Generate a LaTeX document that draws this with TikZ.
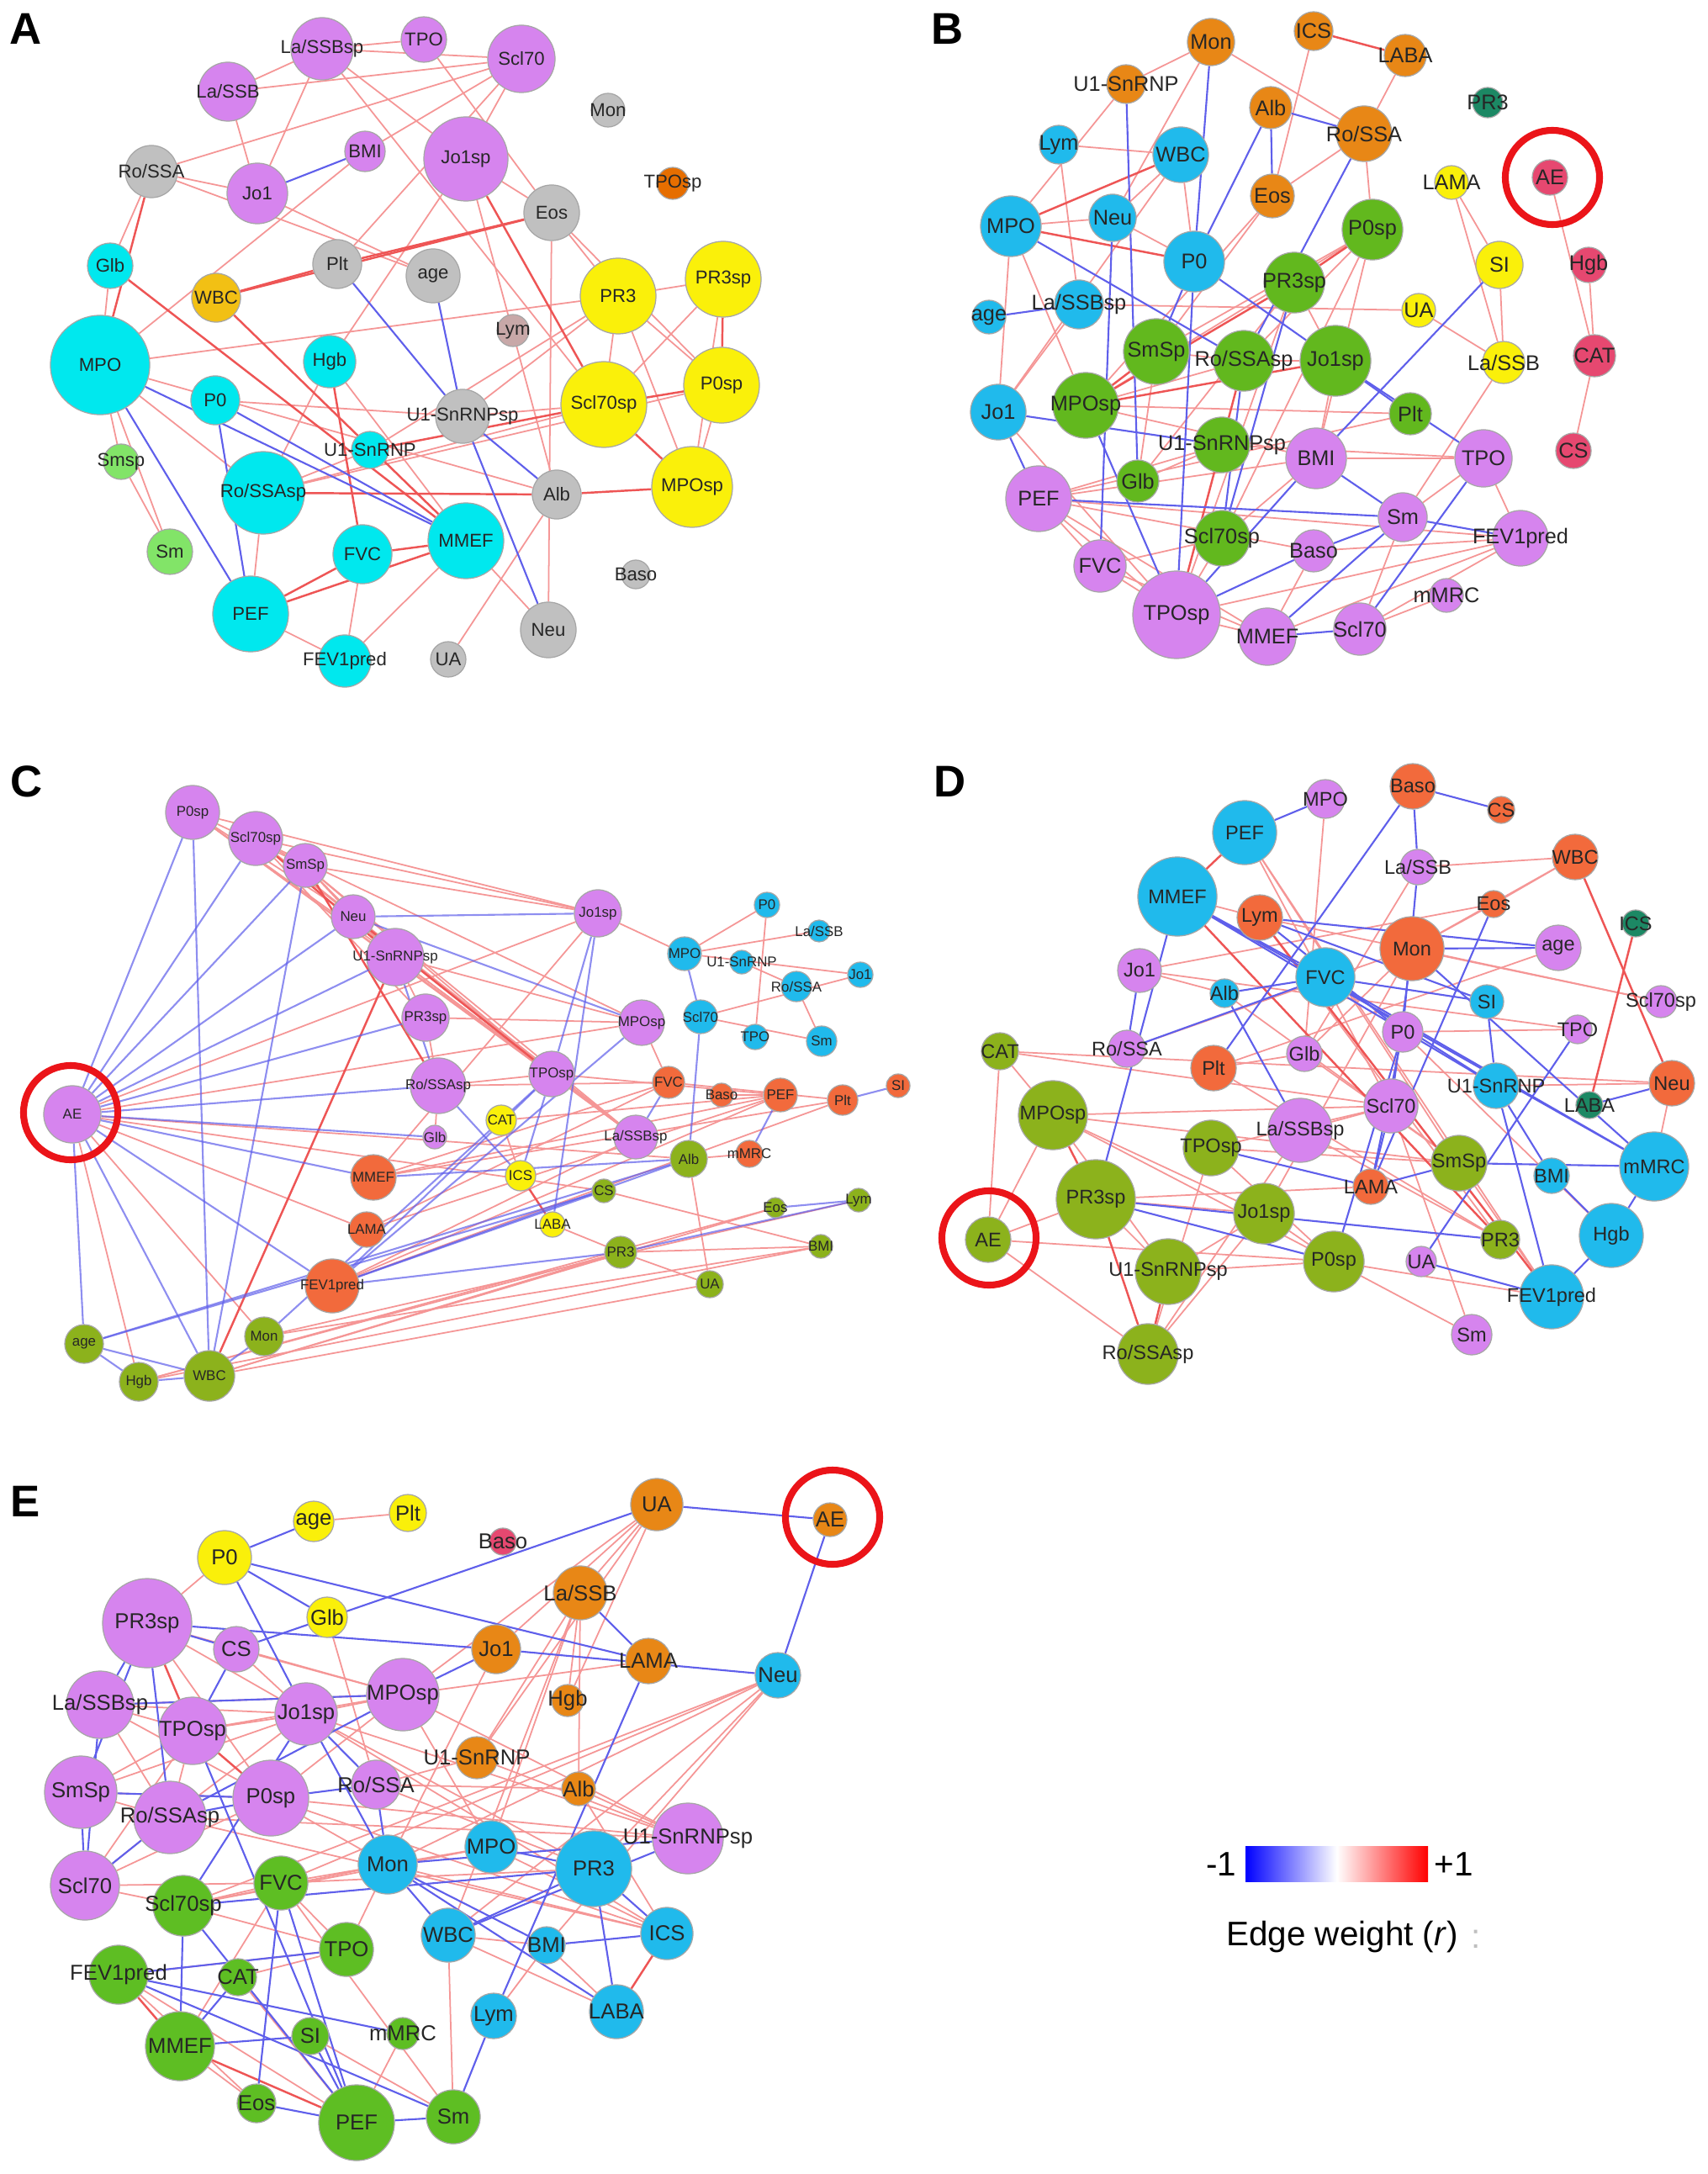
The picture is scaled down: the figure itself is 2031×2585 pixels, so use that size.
\documentclass[tikz,border=0pt]{standalone}
\usepackage{fontspec}
\setmainfont{Liberation Sans}
\usetikzlibrary{backgrounds}

\definecolor{cVio}{RGB}{214,132,238}
\definecolor{cAqua}{RGB}{0,232,238}
\definecolor{cSky}{RGB}{32,186,236}
\definecolor{cGray}{RGB}{192,192,192}
\definecolor{cYel}{RGB}{250,240,10}
\definecolor{cLgreen}{RGB}{130,228,104}
\definecolor{cLeaf}{RGB}{98,184,30}
\definecolor{cOlive}{RGB}{140,178,28}
\definecolor{cGrass}{RGB}{94,190,35}
\definecolor{cOrng}{RGB}{232,135,22}
\definecolor{cCoral}{RGB}{242,106,60}
\definecolor{cRose}{RGB}{230,72,112}
\definecolor{cTeal}{RGB}{28,136,100}
\definecolor{cGold}{RGB}{242,192,20}
\definecolor{cTang}{RGB}{230,110,0}
\definecolor{cMauve}{RGB}{200,168,168}
\definecolor{cRing}{RGB}{235,20,25}
\definecolor{cPos}{RGB}{245,150,150}
\definecolor{cPosS}{RGB}{238,85,85}
\definecolor{cNeg}{RGB}{95,95,235}

\tikzset{
  vtx/.style={circle, draw=black!35, line width=0.35pt, inner sep=0pt, minimum size=#1},
  lblA/.style={font=\fontsize{6.3}{7}\selectfont, text=black!85, inner sep=0pt},
  lblB/.style={font=\fontsize{7.2}{8}\selectfont, text=black!85, inner sep=0pt},
  lblC/.style={font=\fontsize{4.8}{5}\selectfont, text=black!85, inner sep=0pt},
  lblD/.style={font=\fontsize{6.7}{7}\selectfont, text=black!85, inner sep=0pt},
  lblE/.style={font=\fontsize{7.3}{8}\selectfont, text=black!85, inner sep=0pt},
  redge/.style={draw=cPos, line width=0.5pt},
  redgeS/.style={draw=cPosS, line width=0.7pt},
  bedge/.style={draw=cNeg, line width=0.6pt},
  ring/.style={circle, draw=cRing, line width=2.3pt, inner sep=0pt, minimum size=1.12cm},
  panel/.style={font=\fontsize{15}{18}\selectfont\bfseries, inner sep=0pt},
  legtxt/.style={font=\fontsize{11.5}{13}\selectfont, inner sep=0pt}
}

\begin{document}
\begin{tikzpicture}[x=0.01cm, y=-0.01cm]
% page
\useasboundingbox (0,0) rectangle (2031,2585);
\begin{pgfonlayer}{background}
\fill[white] (0,0) rectangle (2031,2585);
\end{pgfonlayer}

% ---------------- Panel A ----------------
\node[panel] (labA) at (31,34) {A};
\foreach \id/\x/\y/\r/\c/\t in {
  LaSSBsp/383/58/37/cVio/{La/SSBsp}, TPO/504/47/27/cVio/TPO, Scl70/620/70/40/cVio/Scl70,
  LaSSB/271/109/35/cVio/{La/SSB}, Mon/723/131/20/cGray/Mon, BMI/434/180/24/cVio/BMI,
  Jo1sp/554/189/50/cVio/Jo1sp, RoSSA/180/204/31/cGray/{Ro/SSA}, Jo1/306/230/36/cVio/Jo1,
  TPOsp/800/218/19/cTang/TPOsp, Eos/656/253/33/cGray/Eos, Glb/131/316/27/cAqua/Glb,
  WBC/257/354/29/cGold/WBC, Plt/401/314/29/cGray/Plt, age/515/328/32/cGray/age,
  PR3/735/352/45/cYel/PR3, PR3sp/860/332/45/cYel/PR3sp, Lym/610/393/19/cMauve/Lym,
  MPO/119/434/59/cAqua/MPO, Hgb/392/430/31/cAqua/Hgb, P0/256/476/29/cAqua/P0,
  Scl70sp/718/481/51/cYel/Scl70sp, U1sp/550/495/32/cGray/U1-SnRNPsp, P0sp/858/458/45/cYel/P0sp,
  U1/440/535/22/cAqua/U1-SnRNP, Smsp/144/549/21/cLgreen/Smsp, RoSSAsp/313/586/49/cAqua/{Ro/SSAsp},
  Alb/662/588/29/cGray/Alb, MPOsp/823/579/48/cYel/MPOsp, Sm/202/656/27/cLgreen/Sm,
  FVC/431/659/35/cAqua/FVC, MMEF/554/643/45/cAqua/MMEF, Baso/756/683/17/cGray/Baso,
  PEF/298/730/45/cAqua/PEF, Neu/652/749/33/cGray/Neu, UA/533/784/21/cGray/UA,
  FEV1/410/786/31/cAqua/FEV1pred}
  \node[vtx=\r*0.02cm, fill=\c, label={[lblA]center:\t}] (a\id) at (\x,\y) {};
\begin{pgfonlayer}{background}
\foreach \u/\v in {LaSSBsp/LaSSB, LaSSBsp/TPO, LaSSBsp/Jo1, LaSSBsp/Jo1sp, LaSSBsp/Scl70sp,
  Scl70/LaSSB, Scl70/LaSSBsp, Scl70/RoSSA, Scl70/Jo1sp, Scl70/BMI, Scl70/Plt, TPO/Eos,
  LaSSB/Jo1, RoSSA/Glb, RoSSA/age, Jo1sp/Eos, Jo1sp/Hgb, Jo1sp/Alb, BMI/MPO, Eos/PR3,
  Eos/P0sp, Eos/Neu, Glb/MPO, MPO/PR3, MPO/Smsp, MPO/Sm, MPO/RoSSAsp, MPO/Alb,
  Hgb/RoSSAsp, Hgb/MMEF, P0/U1sp, U1/PR3, U1/RoSSAsp, RoSSAsp/Scl70sp, RoSSAsp/P0sp,
  RoSSAsp/PEF, Scl70sp/U1sp, PR3/PR3sp, PR3/P0sp, PR3/MPOsp, PR3/Scl70sp, PR3sp/Scl70sp,
  PR3sp/MPOsp, P0sp/MPOsp, Alb/UA, FVC/FEV1, MMEF/FEV1, MMEF/Neu, PEF/FEV1, Smsp/Sm,
  RoSSA/Jo1, Jo1/age, U1sp/PR3}
  \draw[redge] (a\u) -- (a\v);
\foreach \u/\v in {Eos/Plt, Eos/WBC, WBC/Plt, Glb/MMEF, WBC/MMEF, Jo1sp/Scl70sp,
  Scl70sp/P0sp, PR3sp/P0sp, RoSSAsp/Alb, Alb/MPOsp, FVC/MMEF, FVC/PEF, MMEF/PEF,
  U1/Scl70sp, Hgb/FVC, Scl70sp/MPOsp, RoSSA/MPO}
  \draw[redgeS] (a\u) -- (a\v);
\foreach \u/\v in {Jo1/BMI, MPO/MMEF, P0/MMEF, MPO/PEF, P0/PEF, Plt/U1sp, age/U1sp,
  U1sp/Alb, U1sp/Neu}
  \draw[bedge] (a\u) -- (a\v);
\end{pgfonlayer}

% ---------------- Panel B ----------------
\node[panel] (labB) at (1127,34) {B};
\foreach \id/\x/\y/\r/\c/\t in {
  Mon/1440/50/28/cOrng/Mon, ICS/1562/37/23/cOrng/ICS, LABA/1671/66/25/cOrng/LABA,
  U1/1339/100/23/cOrng/U1-SnRNP, PR3/1769/122/18/cTeal/PR3, Alb/1511/128/25/cOrng/Alb,
  RoSSA/1622/159/33/cOrng/{Ro/SSA}, Lym/1259/172/23/cSky/Lym, WBC/1404/184/33/cSky/WBC,
  AE/1843/211/21/cRose/AE, LAMA/1726/217/20/cYel/LAMA, Eos/1513/233/26/cOrng/Eos,
  MPO/1202/269/36/cSky/MPO, Neu/1323/259/28/cSky/Neu, P0sp/1632/273/36/cLeaf/P0sp,
  P0/1420/311/36/cSky/P0, SI/1783/315/28/cYel/SI, Hgb/1889/315/21/cRose/Hgb,
  PR3sp/1539/336/36/cLeaf/PR3sp, LaSSBsp/1283/362/29/cSky/{La/SSBsp}, age/1176/377/20/cSky/age,
  UA/1687/369/20/cYel/UA, SmSp/1375/418/39/cLeaf/SmSp, RoSSAsp/1479/429/36/cLeaf/{Ro/SSAsp},
  Jo1sp/1588/429/42/cLeaf/Jo1sp, LaSSB/1788/431/25/cYel/{La/SSB}, CAT/1896/423/25/cRose/CAT,
  Jo1/1187/490/33/cSky/Jo1, MPOsp/1291/482/39/cLeaf/MPOsp, Plt/1677/492/25/cLeaf/Plt,
  U1sp/1453/529/33/cLeaf/U1-SnRNPsp, BMI/1565/545/36/cVio/BMI, TPO/1764/545/34/cVio/TPO,
  CS/1871/536/21/cRose/CS, Glb/1353/572/25/cLeaf/Glb, PEF/1235/593/39/cVio/PEF,
  Sm/1668/615/29/cVio/Sm, Scl70sp/1453/640/33/cLeaf/Scl70sp, Baso/1562/655/25/cVio/Baso,
  FEV1/1808/640/33/cVio/FEV1pred, FVC/1308/673/31/cVio/FVC, mMRC/1720/708/20/cVio/mMRC,
  TPOsp/1399/731/52/cVio/TPOsp, MMEF/1507/757/34/cVio/MMEF, Scl70/1617/748/31/cVio/Scl70}
  \node[vtx=\r*0.02cm, fill=\c, label={[lblB]center:\t}] (b\id) at (\x,\y) {};
\node[ring] (bRing) at (1846,211) {};
\begin{pgfonlayer}{background}
\foreach \u/\v in {Mon/U1, Mon/RoSSA, Mon/Neu, ICS/Eos, LABA/RoSSA, U1/MPO, Lym/WBC,
  Lym/LaSSBsp, WBC/Neu, WBC/P0, WBC/Jo1, MPO/Neu, MPO/MPOsp, Neu/P0, Eos/MPOsp, Eos/SmSp,
  RoSSA/P0sp, RoSSA/Eos, P0sp/MPOsp, P0sp/SmSp, P0sp/RoSSAsp, P0sp/Scl70sp, P0sp/BMI,
  PR3sp/Jo1sp, PR3sp/Glb, PR3sp/TPOsp, LAMA/SI, LAMA/LaSSB, SI/LaSSB, UA/LaSSB, LaSSBsp/UA,
  AE/CAT, Hgb/CAT, CAT/CS, SmSp/RoSSAsp, SmSp/Glb, RoSSAsp/Jo1sp, RoSSAsp/MPOsp, BMI/TPO,
  BMI/PEF, BMI/Scl70sp, TPO/Sm, TPO/FEV1, PEF/FVC, PEF/TPOsp, PEF/Baso, PEF/MMEF, FVC/TPOsp,
  TPOsp/MMEF, TPOsp/Scl70sp, TPOsp/FEV1, Baso/FEV1, Baso/MMEF, Scl70/mMRC, Scl70/FEV1,
  Sm/Scl70, MMEF/FEV1, LaSSB/Sm, U1sp/TPO, Jo1/TPOsp, PEF/U1sp, FVC/Scl70sp, MPOsp/Plt,
  Jo1/LaSSBsp, MPO/Jo1, U1sp/Glb, PEF/Plt, Jo1sp/BMI, MPOsp/BMI, PEF/FEV1, FVC/MMEF}
  \draw[redge] (b\u) -- (b\v);
\foreach \u/\v in {ICS/LABA, P0sp/PR3sp, PR3sp/MPOsp, SmSp/MPOsp, MPOsp/Jo1sp, WBC/MPO,
  MPO/P0, RoSSAsp/TPOsp}
  \draw[redgeS] (b\u) -- (b\v);
\foreach \u/\v in {Mon/P0, U1/Glb, Alb/Eos, Alb/RoSSA, Alb/P0, RoSSA/RoSSAsp, MPO/RoSSAsp,
  P0/TPOsp, P0/Jo1sp, P0/SmSp, age/LaSSBsp, Jo1/U1sp, Jo1/PEF, MPOsp/TPOsp, Jo1sp/TPO,
  SI/BMI, BMI/Sm, BMI/TPOsp, PEF/Sm, Sm/Baso, Sm/MMEF, Sm/FEV1, TPO/Scl70, MMEF/Scl70,
  PR3sp/Scl70sp, Baso/TPOsp, Jo1sp/Plt, Neu/FVC, RoSSAsp/Scl70sp}
  \draw[bedge] (b\u) -- (b\v);
\end{pgfonlayer}

% ---------------- Panel C ----------------
\node[panel] (labC) at (32,929) {C};
\foreach \id/\x/\y/\r/\c/\t in {
  P0sp/229/966/32/cVio/P0sp, Scl70sp/304/997/32/cVio/Scl70sp, SmSp/363/1029/26/cVio/SmSp,
  Neu/420/1090/26/cVio/Neu, Jo1sp/711/1086/28/cVio/Jo1sp, P0/912/1076/15/cSky/P0,
  LaSSB/974/1107/13/cSky/{La/SSB}, U1sp/470/1138/34/cVio/U1-SnRNPsp, MPO/814/1134/20/cSky/MPO,
  U1/882/1144/14/cSky/U1-SnRNP, Jo1/1023/1159/15/cSky/Jo1, RoSSA/947/1173/18/cSky/{Ro/SSA},
  PR3sp/506/1210/28/cVio/PR3sp, MPOsp/763/1216/27/cVio/MPOsp, Scl70/833/1209/20/cSky/Scl70,
  TPO/898/1233/15/cSky/TPO, Sm/977/1238/18/cSky/Sm, AE/86/1325/34/cVio/AE,
  RoSSAsp/521/1291/33/cVio/{Ro/SSAsp}, TPOsp/656/1277/27/cVio/TPOsp, FVC/795/1287/19/cCoral/FVC,
  Baso/858/1302/14/cCoral/Baso, PEF/928/1302/20/cCoral/PEF, Plt/1002/1308/18/cCoral/Plt,
  SI/1068/1291/14/cCoral/SI, CAT/596/1332/18/cYel/CAT, Glb/517/1352/14/cVio/Glb,
  LaSSBsp/756/1352/26/cVio/{La/SSBsp}, Alb/819/1378/22/cOlive/Alb, mMRC/891/1372/16/cCoral/mMRC,
  MMEF/444/1400/27/cCoral/MMEF, ICS/619/1398/18/cYel/ICS, CS/718/1416/14/cOlive/CS,
  Eos/922/1436/12/cOlive/Eos, Lym/1021/1427/14/cOlive/Lym, LAMA/436/1462/21/cCoral/LAMA,
  LABA/657/1456/15/cYel/LABA, PR3/738/1489/19/cOlive/PR3, BMI/976/1482/14/cOlive/BMI,
  FEV1/395/1529/32/cCoral/FEV1pred, UA/844/1527/16/cOlive/UA, Mon/314/1589/23/cOlive/Mon,
  age/100/1598/23/cOlive/age, WBC/249/1636/30/cOlive/WBC, Hgb/165/1643/23/cOlive/Hgb}
  \node[vtx=\r*0.02cm, fill=\c, label={[lblC]center:\t}] (c\id) at (\x,\y) {};
\node[ring] (cRing) at (84,1323) {};
\begin{pgfonlayer}{background}
\foreach \u/\v in {AE/Hgb, AE/Mon, AE/LAMA, AE/MPOsp, AE/CS, AE/Alb, AE/Jo1sp,
  P0sp/Jo1sp, P0sp/TPOsp, P0sp/LaSSBsp, P0sp/U1sp, Scl70sp/SmSp, Scl70sp/Jo1sp,
  Scl70sp/MPOsp, Scl70sp/TPOsp, Scl70sp/LaSSBsp, Scl70sp/PR3sp, SmSp/TPOsp, SmSp/LaSSBsp,
  SmSp/Jo1sp, SmSp/Neu, Neu/U1sp, Neu/LaSSBsp, U1sp/PR3sp, U1sp/TPOsp, U1sp/LaSSBsp,
  U1sp/MPOsp, PR3sp/RoSSAsp, PR3sp/MPOsp, RoSSAsp/TPOsp, RoSSAsp/FVC, Jo1sp/MMEF, Jo1sp/MPO,
  TPOsp/LaSSBsp, MPOsp/FVC, WBC/PR3, WBC/UA, Hgb/BMI, Mon/BMI, FEV1/LaSSBsp, MMEF/PEF,
  MMEF/Plt, FEV1/PEF, LAMA/FVC, CAT/ICS, Alb/UA, Alb/mMRC, Baso/PEF, FVC/Plt, MPO/Jo1,
  LaSSB/MPO, P0/TPO, Scl70/Sm, U1/RoSSA, RoSSA/Sm, MPO/P0, Scl70/Jo1, Hgb/Eos, PR3/UA,
  PR3/BMI, CS/BMI, LABA/PR3, Hgb/PR3, Mon/Lym, WBC/Eos, P0sp/Neu, P0sp/SmSp, Scl70sp/Neu,
  SmSp/U1sp, FEV1/Plt, LAMA/PEF, MMEF/FVC, Glb/RoSSAsp, CAT/PEF, TPOsp/PEF}
  \draw[redge] (c\u) -- (c\v);
\foreach \u/\v in {WBC/U1sp, Scl70sp/U1sp, SmSp/RoSSAsp, ICS/LABA, Neu/TPOsp}
  \draw[redgeS] (c\u) -- (c\v);
\foreach \u/\v in {AE/P0sp, AE/Scl70sp, AE/SmSp, AE/U1sp, AE/PR3sp, AE/RoSSAsp, AE/Glb,
  AE/MMEF, AE/FEV1, AE/age, AE/WBC, AE/Neu, P0sp/WBC, Neu/Jo1sp, Neu/MPOsp, SmSp/WBC,
  Jo1sp/TPOsp, Jo1sp/LABA, TPOsp/ICS, TPOsp/FEV1, MPOsp/FEV1, Alb/FEV1, Alb/age, Alb/MMEF,
  CS/age, CS/FEV1, PR3/Lym, PR3/FEV1, age/Hgb, age/WBC, WBC/Mon, U1sp/RoSSAsp, RoSSAsp/ICS,
  MPO/Scl70, Scl70/Alb, Plt/SI, PEF/mMRC, FVC/LaSSBsp, Eos/Lym, Mon/TPOsp, Hgb/WBC}
  \draw[bedge, draw opacity=0.7] (c\u) -- (c\v);
\end{pgfonlayer}

% ---------------- Panel D ----------------
\node[panel] (labD) at (1130,929) {D};
\foreach \id/\x/\y/\r/\c/\t in {
  Baso/1680/935/27/cCoral/Baso, MPO/1576/950/23/cVio/MPO, CS/1785/963/16/cCoral/CS,
  PEF/1480/990/38/cSky/PEF, WBC/1873/1019/27/cCoral/WBC, LaSSB/1686/1031/21/cVio/{La/SSB},
  MMEF/1400/1066/47/cSky/MMEF, Lym/1498/1091/27/cCoral/Lym, Eos/1776/1075/16/cCoral/Eos,
  ICS/1945/1098/16/cTeal/ICS, Mon/1679/1128/38/cCoral/Mon, age/1853/1127/27/cVio/age,
  Jo1/1355/1154/26/cVio/Jo1, FVC/1576/1162/35/cSky/FVC, Alb/1456/1181/17/cSky/Alb,
  SI/1768/1191/20/cSky/SI, Scl70sp/1975/1191/19/cVio/Scl70sp, CAT/1189/1250/22/cOlive/CAT,
  RoSSA/1340/1247/22/cVio/{Ro/SSA}, P0/1668/1227/24/cVio/P0, TPO/1876/1224/17/cVio/TPO,
  Glb/1551/1253/21/cVio/Glb, Plt/1443/1270/27/cCoral/Plt, U1/1779/1291/27/cSky/U1-SnRNP,
  Neu/1988/1288/27/cCoral/Neu, LABA/1890/1314/16/cTeal/LABA, MPOsp/1252/1326/41/cOlive/MPOsp,
  Scl70/1654/1315/32/cVio/Scl70, LaSSBsp/1546/1344/38/cVio/{La/SSBsp}, TPOsp/1440/1365/33/cOlive/TPOsp,
  SmSp/1735/1383/33/cOlive/SmSp, mMRC/1967/1387/41/cSky/mMRC, BMI/1845/1398/21/cSky/BMI,
  LAMA/1630/1411/21/cCoral/LAMA, PR3sp/1303/1426/47/cOlive/PR3sp, Jo1sp/1503/1443/36/cOlive/Jo1sp,
  Hgb/1916/1469/38/cSky/Hgb, AE/1175/1474/27/cOlive/AE, PR3/1784/1474/23/cOlive/PR3,
  P0sp/1586/1500/36/cOlive/P0sp, UA/1690/1500/18/cVio/UA, U1sp/1389/1512/39/cOlive/U1-SnRNPsp,
  FEV1/1845/1542/38/cSky/FEV1pred, Sm/1750/1587/24/cVio/Sm, RoSSAsp/1365/1610/36/cOlive/{Ro/SSAsp}}
  \node[vtx=\r*0.02cm, fill=\c, label={[lblD]center:\t}] (d\id) at (\x,\y) {};
\node[ring] (dRing) at (1176,1472) {};
\begin{pgfonlayer}{background}
\foreach \u/\v in {WBC/Eos, WBC/LaSSB, Eos/Mon, MPO/Glb, PEF/Scl70, PEF/SmSp, MMEF/Lym,
  CAT/MPOsp, CAT/AE, CAT/Neu, MPOsp/AE, MPOsp/U1sp, MPOsp/Jo1sp, MPOsp/P0sp, PR3sp/U1sp,
  PR3sp/Jo1sp, PR3sp/AE, AE/RoSSAsp, AE/P0sp, U1sp/Jo1sp, Jo1sp/P0sp, TPOsp/RoSSAsp,
  Jo1sp/RoSSAsp, SmSp/FEV1, Scl70/Sm, P0sp/Sm, Jo1/TPO, LaSSBsp/Scl70, Jo1/Alb, Lym/Scl70sp,
  Mon/Glb, LaSSB/Glb, P0/TPO, Glb/SmSp, Plt/PR3, Neu/mMRC, age/Plt, RoSSA/Mon, Alb/SmSp,
  LaSSBsp/PR3, TPOsp/SmSp, P0sp/FEV1, MPOsp/Scl70, MPOsp/SmSp, CAT/Scl70, PR3sp/LAMA,
  TPOsp/Scl70, Jo1sp/Mon, Lym/PR3, PEF/FEV1, Eos/Jo1, WBC/Mon, Scl70sp/Mon, P0/Hgb, U1/Neu,
  Plt/Glb, RoSSAsp/LaSSBsp, U1sp/P0sp, TPOsp/P0sp}
  \draw[redge] (d\u) -- (d\v);
\foreach \u/\v in {MPOsp/PR3sp, PR3sp/RoSSAsp, U1sp/RoSSAsp, WBC/Neu, Lym/FEV1, MMEF/PR3,
  ICS/LABA, MMEF/PEF}
  \draw[redgeS] (d\u) -- (d\v);
\foreach \u/\v in {Baso/CS, Baso/LaSSB, Baso/Plt, PEF/MPO, MMEF/PR3sp, MMEF/FVC, MMEF/U1,
  MMEF/mMRC, Lym/age, Lym/SI, Mon/age, Mon/Scl70, Mon/mMRC, FVC/SI, FVC/Alb, FVC/RoSSA,
  FVC/mMRC, FVC/U1, Alb/LaSSBsp, P0/LAMA, SI/U1, Scl70/LAMA, LaSSB/P0, U1/FEV1, U1/BMI,
  TPO/UA, LABA/Neu, BMI/Hgb, mMRC/Hgb, Hgb/FEV1, PR3sp/P0sp, PR3sp/PR3, TPOsp/LAMA, UA/FEV1,
  Jo1/RoSSA, P0/P0sp, SmSp/LAMA, SmSp/mMRC, Eos/LAMA, Lym/P0}
  \draw[bedge] (d\u) -- (d\v);
\end{pgfonlayer}

% ---------------- Panel E ----------------
\node[panel] (labE) at (30,1785) {E};
\foreach \id/\x/\y/\r/\c/\t in {
  UA/781/1789/31/cOrng/UA, AE/987/1807/20/cOrng/AE, Plt/485/1799/22/cYel/Plt,
  age/373/1809/24/cYel/age, Baso/598/1833/16/cRose/Baso, P0/267/1852/32/cYel/P0,
  LaSSB/690/1894/32/cOrng/{La/SSB}, Glb/389/1923/24/cYel/Glb, PR3sp/175/1930/53/cVio/PR3sp,
  CS/281/1961/27/cVio/CS, Jo1/590/1961/29/cOrng/Jo1, LAMA/771/1975/27/cOrng/LAMA,
  Neu/925/1992/27/cSky/Neu, MPOsp/479/2015/43/cVio/MPOsp, Hgb/675/2022/19/cOrng/Hgb,
  LaSSBsp/119/2027/40/cVio/{La/SSBsp}, Jo1sp/364/2038/37/cVio/Jo1sp, TPOsp/229/2058/40/cVio/TPOsp,
  U1/567/2090/25/cOrng/U1-SnRNP, SmSp/96/2131/43/cVio/SmSp, RoSSA/447/2122/29/cVio/{Ro/SSA},
  Alb/688/2127/20/cOrng/Alb, P0sp/322/2138/45/cVio/P0sp, RoSSAsp/202/2161/43/cVio/{Ro/SSAsp},
  U1sp/818/2186/42/cVio/U1-SnRNPsp, MPO/584/2196/31/cSky/MPO, Mon/461/2217/35/cSky/Mon,
  PR3/706/2222/45/cSky/PR3, Scl70/101/2242/41/cVio/Scl70, FVC/334/2239/32/cGrass/FVC,
  Scl70sp/218/2266/36/cGrass/Scl70sp, WBC/533/2301/32/cSky/WBC, ICS/793/2299/31/cSky/ICS,
  TPO/412/2318/32/cGrass/TPO, BMI/650/2313/22/cSky/BMI, FEV1/141/2348/35/cGrass/FEV1pred,
  CAT/283/2351/22/cGrass/CAT, LABA/733/2392/32/cSky/LABA, Lym/587/2397/27/cSky/Lym,
  SI/369/2421/22/cGrass/SI, mMRC/479/2418/19/cGrass/mMRC, MMEF/214/2433/41/cGrass/MMEF,
  Eos/305/2501/23/cGrass/Eos, PEF/424/2524/45/cGrass/PEF, Sm/539/2517/32/cGrass/Sm}
  \node[vtx=\r*0.02cm, fill=\c, label={[lblE]center:\t}] (e\id) at (\x,\y) {};
\node[ring] (eRing) at (990,1804) {};
\begin{pgfonlayer}{background}
\foreach \u/\v in {UA/LaSSB, UA/Jo1, UA/U1, UA/Hgb, UA/MPOsp, age/Plt, P0/PR3sp, LaSSB/Hgb,
  LaSSB/Alb, LaSSB/WBC, LaSSB/MPO, LaSSB/U1, LAMA/MPOsp, Neu/Mon, Neu/WBC, Neu/Scl70sp,
  Neu/PR3, Neu/BMI, Alb/U1sp, Alb/ICS, Alb/RoSSA, U1/U1sp, U1/RoSSA, MPOsp/U1sp, Jo1sp/U1sp,
  P0sp/U1sp, RoSSAsp/U1sp, PR3sp/Jo1sp, PR3sp/P0sp, PR3sp/MPOsp, LaSSBsp/TPOsp,
  LaSSBsp/Jo1sp, LaSSBsp/MPOsp, LaSSBsp/RoSSAsp, LaSSBsp/P0sp, TPOsp/Jo1sp, TPOsp/MPOsp,
  TPOsp/SmSp, TPOsp/RoSSAsp, TPOsp/Scl70, Jo1sp/MPOsp, Jo1sp/SmSp, Jo1sp/RoSSAsp,
  MPOsp/P0sp, CS/MPOsp, CS/Jo1sp, SmSp/RoSSAsp, SmSp/P0sp, RoSSAsp/Scl70, Scl70/P0sp,
  Scl70/Scl70sp, Scl70/FVC, Scl70sp/FVC, Scl70sp/TPO, FVC/TPO, FVC/Sm, FVC/MMEF, TPO/FEV1,
  FEV1/PEF, CAT/TPO, MMEF/Eos, SI/Sm, mMRC/PEF, MPO/ICS, MPO/Scl70sp, Mon/ICS, WBC/LABA,
  WBC/BMI, BMI/Lym, BMI/LABA, PR3/FVC, MPO/FVC, Mon/TPO, P0sp/Mon, RoSSAsp/ICS, Jo1sp/ICS,
  Scl70sp/Mon, Glb/RoSSA, Jo1/Mon, Neu/FVC, RoSSA/PR3, Jo1sp/PR3, MPOsp/MPO, P0sp/ICS,
  Eos/FEV1, Sm/WBC, CAT/PEF}
  \draw[redge] (e\u) -- (e\v);
\foreach \u/\v in {ICS/LABA, PR3sp/TPOsp, TPOsp/P0sp, MMEF/PEF, FEV1/MMEF}
  \draw[redgeS] (e\u) -- (e\v);
\foreach \u/\v in {P0/age, P0/Glb, P0/Jo1sp, P0/LAMA, Jo1/Neu, UA/CS, UA/AE, AE/Neu,
  LaSSB/LAMA, PR3sp/CS, PR3sp/Jo1, MPOsp/Jo1, MPOsp/RoSSAsp, PR3sp/LaSSBsp, PR3sp/SmSp,
  PR3sp/RoSSAsp, LaSSBsp/Scl70, SmSp/Scl70, Scl70/RoSSAsp, RoSSAsp/P0sp, P0sp/SmSp,
  P0sp/RoSSA, Jo1sp/Mon, CS/TPOsp, TPOsp/PEF, Scl70sp/MMEF, Scl70sp/PEF, FVC/PEF, FVC/Eos,
  FEV1/Sm, FEV1/mMRC, FEV1/TPO, MMEF/SI, SI/PEF, Eos/PEF, PEF/Sm, Mon/WBC, Mon/BMI,
  Mon/LABA, MPO/PR3, PR3/LABA, PR3/ICS, LAMA/Lym, Lym/Sm, WBC/PR3, Scl70sp/PR3, BMI/ICS,
  CAT/MMEF, Mon/RoSSA, U1sp/Mon, RoSSA/Jo1sp, MPOsp/LaSSBsp, U1sp/WBC, Jo1sp/Scl70sp}
  \draw[bedge] (e\u) -- (e\v);
\end{pgfonlayer}

% ---------------- Legend ----------------
\shade[left color=blue, right color=red, middle color=white] (1481,2195) rectangle (1698,2237);
\node[legtxt] (legMin) at (1452,2217) {-1};
\node[legtxt] (legMax) at (1729,2217) {+1};
\node[legtxt] (legTitle) at (1596,2303) {Edge weight (\textit{r})};
\node[legtxt, text=black!25] (legDots) at (1755,2306) {:};
\end{tikzpicture}
\end{document}
